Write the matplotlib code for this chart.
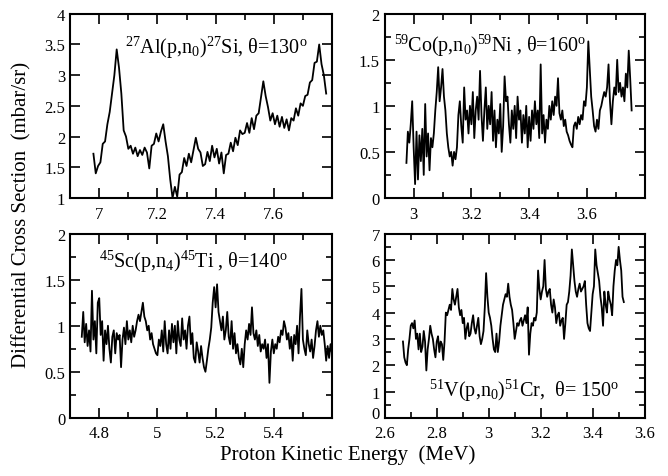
import matplotlib

matplotlib.use("Agg")
import matplotlib.pyplot as plt
import numpy as np
from matplotlib.ticker import FuncFormatter, MultipleLocator, StrMethodFormatter

plt.rcParams["font.family"] = ["Liberation Serif", "DejaVu Serif"]
plt.rcParams["mathtext.fontset"] = "custom"
plt.rcParams["mathtext.rm"] = "Liberation Serif"
plt.rcParams["mathtext.it"] = "Liberation Serif:italic"

# 27Al(p,n0)27Si, theta=130 deg  (energy range)
al_e_range = (6.98, 7.78)
al_sigma = [
    1.72, 1.40, 1.52, 1.58, 1.88, 1.92, 2.20, 2.40, 2.70, 3.00,
    3.42, 3.12, 2.70, 2.10, 2.00, 1.80, 1.85, 1.72, 1.82, 1.68,
    1.78, 1.70, 1.82, 1.74, 1.48, 1.85, 1.88, 2.05, 1.92, 2.08,
    2.20, 1.92, 1.68, 1.30, 1.00, 1.18, 1.02, 1.38, 1.42, 1.65,
    1.52, 1.72, 1.58, 1.78, 1.98, 1.80, 1.74, 1.52, 1.55, 1.75,
    1.60, 1.85, 1.66, 1.80, 1.56, 1.74, 1.40, 1.70, 1.72, 1.90,
    1.76, 1.98, 1.86, 2.10, 2.04, 2.06, 2.22, 2.06, 2.30, 2.12,
    2.34, 2.38, 2.64, 2.90, 2.66, 2.48, 2.26, 2.38, 2.20, 2.34,
    2.16, 2.32, 2.14, 2.28, 2.10, 2.30, 2.26, 2.46, 2.34, 2.54,
    2.50, 2.66, 2.68, 2.88, 2.92, 3.20, 3.22, 3.50, 3.18, 3.00,
    2.70,
]

# 59Co(p,n0)59Ni, theta=160 deg
co_e_range = (2.975, 3.755)
co_sigma = [
    0.38, 0.72, 0.60, 0.80, 1.05, 0.55, 0.15, 0.72, 0.20, 0.68, 0.40,
    0.75, 0.25, 1.02, 0.45, 0.70, 0.30, 0.65, 0.55, 0.70, 0.95,
    1.15, 1.42, 1.05, 1.20, 1.40, 1.10, 0.95, 0.70, 0.55, 0.45,
    0.50, 0.35, 0.50, 0.42, 0.55, 0.90, 1.05, 0.78, 0.60, 1.20,
    0.85, 0.95, 0.70, 1.00, 0.80, 1.15, 0.65, 0.95, 1.10, 0.85,
    1.38, 0.90, 0.62, 0.95, 1.20, 0.75, 1.00, 0.80, 1.15, 0.62,
    0.95, 0.55, 0.85, 0.70, 1.02, 0.50, 0.78, 1.32, 1.05, 1.10,
    0.80, 0.60, 0.95, 0.75, 1.00, 0.65, 1.10, 0.85, 0.95, 0.60,
    0.90, 0.70, 1.00, 0.55, 0.88, 0.62, 0.95, 0.75, 1.05, 0.80,
    0.95, 0.65, 1.45, 0.70, 0.90, 0.60, 0.85, 0.75, 1.00, 0.85,
    1.05, 0.90, 1.10, 1.00, 1.30, 0.92, 0.85, 0.95, 0.78, 0.85,
    0.72, 0.68, 0.62, 0.58, 0.55, 0.78, 0.82, 0.75, 0.88, 0.80,
    0.90, 0.85, 1.05, 1.00, 1.20, 1.70, 1.40, 1.10, 0.95, 0.78,
    0.72, 0.85, 0.75, 0.95, 1.00, 1.08, 1.15, 1.10, 1.20, 1.45,
    1.05, 0.80, 1.05, 1.20, 1.12, 1.50, 1.15, 1.25, 1.10, 1.20,
    1.05, 1.35, 1.20, 1.60, 1.30, 0.95,
]

# 45Sc(p,n4)45Ti, theta=140 deg
sc_e_range = (4.74, 5.60)
sc_sigma = [
    0.88, 1.15, 0.82, 1.02, 0.78, 0.95, 0.72, 1.38, 0.85, 1.05,
    0.70, 1.25, 1.30, 0.90, 1.05, 0.62, 0.95, 0.80, 1.00, 0.75,
    0.60, 0.88, 0.95, 0.70, 0.92, 0.85, 0.90, 0.55, 0.85, 0.98,
    0.80, 1.05, 0.85, 0.95, 0.82, 1.00, 0.88, 0.95, 1.05, 1.12,
    1.05, 1.15, 1.25, 1.10, 1.05, 0.95, 1.00, 0.85, 0.92, 0.80,
    0.75, 0.70, 0.68, 0.85, 0.78, 0.95, 0.72, 1.05, 0.80, 0.70,
    0.95, 0.75, 1.02, 0.82, 1.00, 0.70, 1.05, 0.85, 0.78, 1.08,
    0.85, 0.95, 0.75, 1.00, 1.10, 0.80, 0.92, 0.65, 0.60, 0.82,
    0.72, 0.60, 0.78, 0.65, 0.55, 0.50, 0.62, 0.75, 0.85, 0.98,
    1.25, 1.42, 1.20, 1.45, 1.15, 1.05, 0.95, 1.10, 0.85, 0.95,
    1.15, 0.88, 0.80, 1.05, 0.75, 0.92, 0.70, 0.80, 0.65, 0.58,
    0.75, 0.55, 0.80, 0.95, 0.85, 1.02, 0.90, 1.20, 0.92, 0.85,
    0.95, 0.78, 0.90, 0.72, 0.80, 0.75, 0.85, 0.65, 0.80, 0.38,
    0.72, 0.85, 0.70, 0.80, 0.75, 0.88, 0.82, 0.95, 0.90, 1.05,
    0.98, 0.85, 0.92, 0.75, 0.88, 0.62, 0.90, 0.80, 1.00, 0.70,
    1.10, 1.40, 0.85, 0.75, 0.68, 0.95, 0.80, 0.72, 0.85, 0.65,
    0.78, 0.95, 1.05, 0.88, 1.00, 0.90, 0.95, 0.80, 0.62, 0.78,
    0.65, 0.80, 0.70,
]

# 51V(p,n0)51Cr, theta=150 deg
v_e_range = (2.67, 3.52)
v_sigma = [
    2.9, 2.3, 2.1, 2.0, 2.6, 3.0, 3.5, 3.6, 3.4, 3.7,
    3.0, 3.2, 2.6, 3.2, 2.5, 2.7, 3.3, 2.9, 1.8, 2.6,
    3.0, 3.5, 3.2, 3.0, 2.6, 2.3, 2.9, 3.1, 2.5, 2.9,
    2.8, 2.2, 2.9, 4.0, 3.9, 4.1, 4.3, 4.1, 4.9, 4.5,
    4.3, 4.6, 4.9, 4.2, 3.9, 4.1, 3.6, 3.8, 3.0, 3.4,
    3.6, 3.1, 3.2, 3.6, 3.9, 3.4, 3.2, 3.5, 3.8, 3.1,
    2.8, 3.0, 3.3, 4.2, 5.5, 4.6, 4.0, 3.8, 3.5, 3.0,
    2.6, 2.5, 3.2, 2.5, 2.9, 3.5, 3.9, 4.3, 4.5, 4.7,
    4.6, 5.1, 4.6, 4.3, 4.1, 3.6, 3.0, 3.3, 3.6, 3.5,
    3.7, 3.8, 3.5, 3.7, 3.9, 3.6, 4.2, 2.4, 3.2, 3.6,
    3.5, 3.8, 3.7, 4.0, 5.6, 4.9, 4.5, 4.8, 5.0, 6.0,
    4.9, 4.6, 4.8, 4.9, 4.3, 4.0, 4.5, 4.2, 3.6, 3.9,
    4.0, 3.5, 3.7, 3.8, 3.0, 3.6, 4.3, 4.4, 4.8, 5.4,
    6.4, 5.8, 5.2, 4.8, 4.6, 4.9, 5.1, 4.8, 4.9, 5.0,
    5.2, 4.3, 3.6, 3.4, 3.3, 4.0, 4.7, 5.0, 6.4, 5.8,
    5.5, 5.2, 4.6, 4.2, 3.5, 4.8, 4.3, 4.0, 4.8, 4.5,
    4.3, 3.9, 5.0, 5.6, 6.0, 5.8, 6.5, 6.0, 5.6, 4.6,
    4.4,
]

panels = [
    # energy range, values, xlim, ylim, y major, y minor, last x label?, label, label pos
    (al_e_range, al_sigma, (6.9, 7.8), (1, 4), 0.5, None, False,
     r"$^{27}$Al(p,n$_0$)$^{27}$Si, θ=130$^{\rm o}$", (0.21, 0.82)),
    (co_e_range, co_sigma, (2.9, 3.8), (0, 2), 0.5, 0.25, False,
     r"$^{59}$Co(p,n$_0$)$^{59}$Ni , θ=160$^{\rm o}$", (0.035, 0.83)),
    (sc_e_range, sc_sigma, (4.7, 5.6), (0, 2), 0.5, 0.25, False,
     r"$^{45}$Sc(p,n$_4$)$^{45}$Ti , θ=140$^{\rm o}$", (0.11, 0.85)),
    (v_e_range, v_sigma, (2.6, 3.6), (0, 7), 1, 0.5, True,
     r"$^{51}$V(p,n$_0$)$^{51}$Cr,  θ= 150$^{\rm o}$", (0.17, 0.15)),
]

fig = plt.figure(figsize=(6.68, 4.77), dpi=100)

boxes = [
    [0.105, 0.583, 0.392, 0.386],
    [0.576, 0.583, 0.389, 0.386],
    [0.105, 0.122, 0.392, 0.386],
    [0.576, 0.122, 0.389, 0.386],
]


def x_formatter(xmax, show_last):
    def fmt(v, pos):
        if not show_last and np.isclose(v, xmax):
            return ""
        return f"{v:g}"
    return FuncFormatter(fmt)


axes = []
for box, (e_range, sigma, xlim, ylim, ymaj, ymin, show_last, label, pos) in zip(boxes, panels):
    ax = fig.add_axes(box)
    axes.append(ax)
    energy = np.linspace(e_range[0], e_range[1], len(sigma))
    ax.plot(energy, sigma, color="black", linewidth=1.3)

    ax.set_xlim(*xlim)
    ax.set_ylim(*ylim)
    ax.xaxis.set_major_locator(MultipleLocator(0.2))
    ax.xaxis.set_minor_locator(MultipleLocator(0.1))
    ax.yaxis.set_major_locator(MultipleLocator(ymaj))
    if ymin:
        ax.yaxis.set_minor_locator(MultipleLocator(ymin))
    ax.xaxis.set_major_formatter(x_formatter(xlim[1], show_last))
    ax.yaxis.set_major_formatter(StrMethodFormatter("{x:g}"))

    ax.tick_params(which="both", direction="in", top=True, right=True,
                   labelsize=12, width=1.2)
    ax.tick_params(axis="x", which="major", pad=5.5)
    ax.tick_params(which="major", length=7)
    ax.tick_params(which="minor", length=4)
    for spine in ax.spines.values():
        spine.set_linewidth(1.5)

    ax.text(pos[0], pos[1], label, transform=ax.transAxes, fontsize=14.5,
            ha="left", va="center")

fig.text(0.032, 0.55, "Differential Cross Section  (mbar/sr)", rotation=90,
         ha="center", va="center", fontsize=15)
fig.text(0.52, 0.046, "Proton Kinetic Energy  (MeV)", ha="center",
         va="center", fontsize=15)

# in the original the "0" of the bottom-right panel sits a little high,
# just clear of the "2.6" below it
fig.canvas.draw()
for lab in axes[3].get_yticklabels():
    if lab.get_text() == "0":
        lab.set_verticalalignment("baseline")

fig.savefig("out.png", dpi=100)
